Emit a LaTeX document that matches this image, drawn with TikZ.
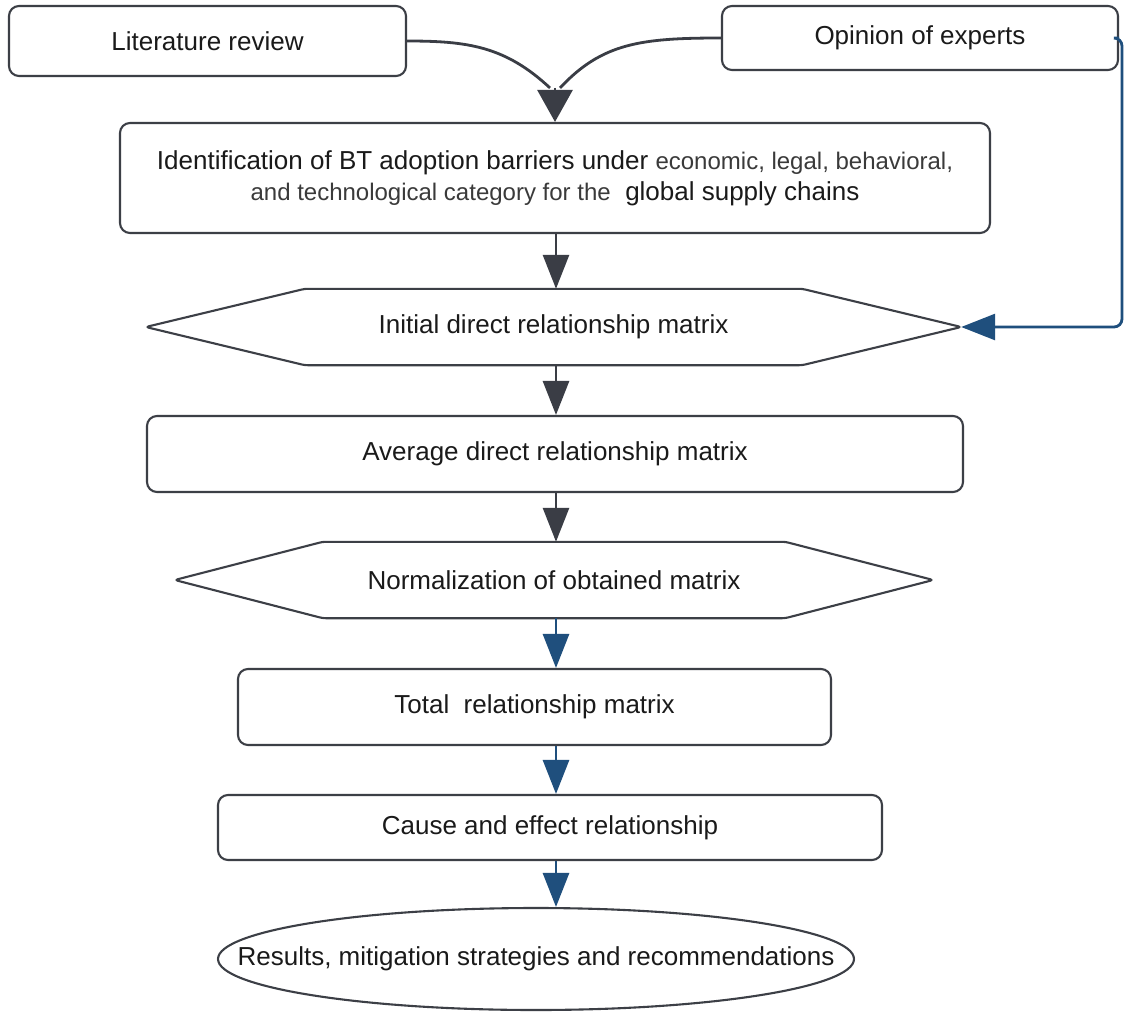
\documentclass[tikz,border=0pt]{standalone}
\usepackage{fontspec}
\setmainfont{Liberation Sans}
\usetikzlibrary{arrows.meta,shapes.geometric}
\definecolor{edgegray}{HTML}{3C3F46}
\definecolor{arrgray}{HTML}{3A3D45}
\definecolor{arrblue}{HTML}{1F4F7D}
\definecolor{txtcol}{HTML}{1A1A1A}
\definecolor{subcol}{HTML}{3A3A3A}
\newcommand\subtext[1]{{\fontsize{24}{31}\selectfont\color{subcol}#1}}
\begin{document}
\begin{tikzpicture}[x=1pt,y=-1pt,
  bigfont/.style={font=\fontsize{26}{31}\selectfont},
  box/.style={draw=edgegray,line width=2.1pt,rounded corners=10pt,fill=white,
    text=txtcol,bigfont,align=center,inner sep=0pt},
  hexlabel/.style={inner sep=0pt,text=txtcol,bigfont},
  hexline/.style={draw=edgegray,line width=2.1pt,rounded corners=3pt,line join=round},
  garr/.style={draw=arrgray,line width=2.8pt,-{Triangle[width=26pt,length=34pt]}},
  barr/.style={draw=arrblue,line width=2.8pt,-{Triangle[width=26pt,length=34pt]}},
  curve/.style={draw=arrgray,line width=2.8pt},
  mergetip/.style={-{Triangle[width=35pt,length=32pt]}}
]
\fill[white] (0,0) rectangle (1125,1012);
\useasboundingbox (0,0) rectangle (1125,1012);

\coordinate (ax) at (556,0);
\coordinate (fb) at (1122,0);

% top boxes
\node[box,minimum width=397pt,minimum height=70pt] (lit) at (207.5,41) {Literature review};
\node[box,minimum width=396pt,minimum height=64pt] (op) at (920,38) {Opinion of experts};

% identification
\node[box,minimum width=870pt,minimum height=110pt] (id) at (555,178)
  {Identification of BT adoption barriers under \subtext{economic, legal, behavioral,}\\
   \subtext{and technological category for the}~ global supply chains};

% hexagon 1
\node[hexlabel,minimum width=815pt,minimum height=76pt] (h1) at (553.5,327) {Initial direct relationship matrix};
\draw[hexline] (h1.west) -- ([xshift=159pt]h1.north west) -- ([xshift=-159pt]h1.north east)
  -- (h1.east) -- ([xshift=-159pt]h1.south east) -- ([xshift=159pt]h1.south west) -- cycle;

% average
\node[box,minimum width=816pt,minimum height=76pt] (avg) at (555,454) {Average direct relationship matrix};

% hexagon 2
\node[hexlabel,minimum width=758pt,minimum height=76pt] (h2) at (554,580) {Normalization of obtained matrix};
\draw[hexline] (h2.west) -- ([xshift=148pt]h2.north west) -- ([xshift=-148pt]h2.north east)
  -- (h2.east) -- ([xshift=-148pt]h2.south east) -- ([xshift=148pt]h2.south west) -- cycle;

% total
\node[box,minimum width=593pt,minimum height=76pt] (tot) at (534.5,707) {Total~ relationship matrix};

% cause
\node[box,minimum width=664pt,minimum height=65pt] (cause) at (550,827.5) {Cause and effect relationship};

% results ellipse
\node[ellipse,draw=edgegray,line width=2.1pt,fill=white,inner sep=0pt,
  minimum width=636pt,minimum height=102pt] (res) at (536,959) {};
\node[hexlabel] (restext) at (res.center) {Results, mitigation strategies and recommendations};

% merging curves
\coordinate (mg) at ([yshift=34pt]id.north);
\draw[curve] (lit.east) .. controls +(60,0) and +(-45,-42) .. ([xshift=-5pt]mg);
\draw[curve] (op.west) .. controls +(-80,0) and +(42,-45) .. ([xshift=5pt]mg);
\draw[garr,mergetip] (mg) -- (id.north);

% vertical arrows
\draw[garr] (id.south -| ax) -- (h1.north -| ax);
\draw[garr] (h1.south -| ax) -- (avg.north -| ax);
\draw[garr] (avg.south -| ax) -- (h2.north -| ax);
\draw[barr] (h2.south -| ax) -- (tot.north -| ax);
\draw[barr] (tot.south -| ax) -- (cause.north -| ax);
\draw[barr] (cause.south -| ax) -- (res.north -| ax);

% feedback
\draw[barr,rounded corners=8pt] (op.east) -- (op.east -| fb) -- (h1.east -| fb) -- (h1.east);
\end{tikzpicture}
\end{document}
